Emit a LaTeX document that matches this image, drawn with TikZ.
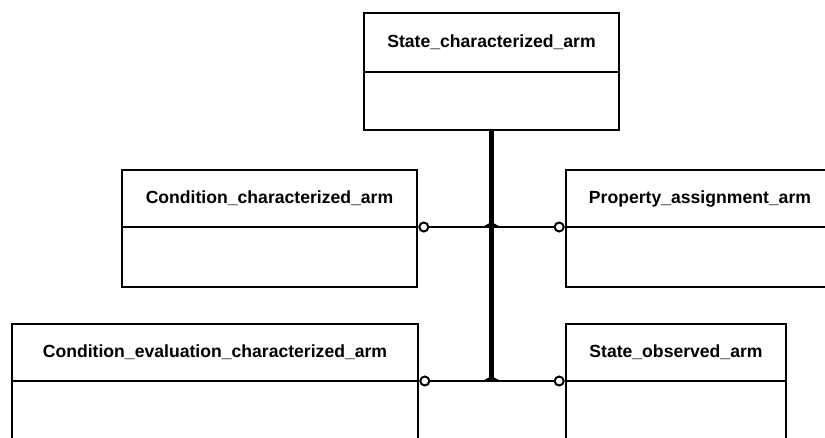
\documentclass[tikz,border=0pt]{standalone}
\usepackage{fontspec}
\setmainfont{Liberation Sans}
\begin{document}
\begin{tikzpicture}[x=1pt,y=-1pt,
  box/.style={draw, line width=2.6pt, rectangle, minimum height=117pt, inner sep=0pt},
  hdr/.style={font=\fontsize{17.6}{20}\selectfont\bfseries, inner sep=0pt},
  divl/.style={line width=1.8pt},
  conn/.style={line width=1.8pt},
  trunk/.style={line width=5.5pt},
  circ/.style={circle, draw, line width=2pt, minimum size=9pt, inner sep=0pt, fill=white}]
\useasboundingbox (0,0) rectangle (825,437);
\clip (0,0) rectangle (825,437);

% boxes
\node[box, minimum width=255pt] (sc) at (491.5,71.5) {};
\draw[divl] (sc.west |- 0,72) -- (sc.east |- 0,72);
\node[hdr] (sct) at (491.5,42.5) {State\_characterized\_arm};

\node[box, minimum width=295pt] (cc) at (269.5,228.5) {};
\draw[divl] (cc.west |- 0,227) -- (cc.east |- 0,227);
\node[hdr] (cct) at (269.5,198.5) {Condition\_characterized\_arm};

\node[box, minimum width=268pt] (pa) at (700,228.5) {};
\draw[divl] (pa.west |- 0,227) -- (pa.east |- 0,227);
\node[hdr] (pat) at (700,198.5) {Property\_assignment\_arm};

\node[box, minimum width=406pt] (ce) at (215,382.5) {};
\draw[divl] (ce.west |- 0,381) -- (ce.east |- 0,381);
\node[hdr] (cet) at (215,352.5) {Condition\_evaluation\_characterized\_arm};

\node[box, minimum width=220pt] (so) at (676,382.5) {};
\draw[divl] (so.west |- 0,381) -- (so.east |- 0,381);
\node[hdr] (sot) at (676,352.5) {State\_observed\_arm};

% junctions
\coordinate (j1) at (sc.south |- 0,227);
\coordinate (j2) at (sc.south |- 0,381);

% trunk
\draw[trunk] (sc.south) -- (j2);
\fill (j1) ++(-9,0) -- ++(9,-5) -- ++(9,5) -- cycle;
\fill (j2) ++(-9,0) -- ++(9,-5) -- ++(9,5) -- cycle;

% circles
\node[circ, anchor=west] (c1) at (cc.east |- j1) {};
\node[circ, anchor=east] (c2) at (pa.west |- j1) {};
\node[circ, anchor=west] (c3) at (ce.east |- j2) {};
\node[circ, anchor=east] (c4) at (so.west |- j2) {};

% connectors
\draw[conn] (c1) -- (j1) -- (c2);
\draw[conn] (c3) -- (j2) -- (c4);
\end{tikzpicture}
\end{document}
